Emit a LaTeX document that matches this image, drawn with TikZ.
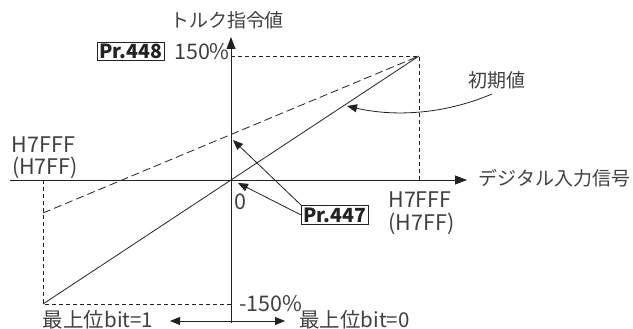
\documentclass[tikz,border=0pt]{standalone}
\usepackage{fontspec}
\setmainfont{Noto Sans CJK JP}
\usetikzlibrary{arrows.meta}
\definecolor{ink}{HTML}{222222}
\definecolor{txt}{HTML}{404040}
\begin{document}
\begin{tikzpicture}[x=1pt,y=-1pt,
  line width=0.8pt, draw=ink,
  lbl/.style={inner sep=0pt, text=txt, font=\fontsize{19}{19}\selectfont},
  blbl/.style={inner sep=0pt, text=txt, font=\fontsize{20.5}{20.5}\selectfont},
  lat/.style={inner sep=0pt, text=txt, font=\fontsize{21.5}{21.5}\selectfont},
  parbox/.style={draw=ink, line width=0.8pt, inner sep=2pt, text=ink, font=\fontsize{19.5}{19.5}\selectfont\bfseries},
  axisarrow/.style={-{Triangle[length=12pt,width=9pt]}},
  ptr/.style={-{Triangle[length=10pt,width=8pt]}},
  guide/.style={dashed, dash pattern=on 4pt off 3pt},
  dline/.style={dash pattern=on 8pt off 4pt}]
\useasboundingbox (0,0) rectangle (633,329);
% key points
\coordinate (O) at (231,180);
\coordinate (TR) at (419,56);
\coordinate (BL) at (43,304);
\coordinate (DL) at (43,213);
\coordinate (Ytop) at (231,37);
\coordinate (Ybot) at (231,323);
\coordinate (Xl) at (10,180);
\coordinate (Xr) at (467,180);
\coordinate (Y150) at (231,56);
\coordinate (Ym150) at (231,304);
\coordinate (Xpos) at (419,180);
\coordinate (Xneg) at (43,180);
% axes
\draw[axisarrow] (Ybot) -- (Ytop);
\draw[axisarrow] (Xl) -- (Xr);
% guides
\draw[guide] (Y150) -- (TR) -- (Xpos);
\draw[guide] (Xneg) -- (BL) -- (Ym150);
% characteristic lines
\draw (BL) -- (TR);
\draw[dline] (DL) -- (TR);
% labels
\node[lbl] (ylab) at (227,20) {トルク指令値};
\node[parbox] (p448) at (131,51.5) {Pr.448};
\node[lat] (v150) at (202,52) {150\%};
\node[lbl] (init) at (497,80) {初期値};
\node[lat] (hl1) at (43.5,145) {H7FFF};
\node[lat] (hl2) at (45,167.5) {(H7FF)};
\node[lbl, anchor=west] (xlab) at (478,178) {デジタル入力信号};
\node[lat] (zero) at (240,202) {0};
\node[lat] (hr1) at (420,200) {H7FFF};
\node[lat] (hr2) at (421.5,224) {(H7FF)};
\node[lat] (vm150) at (271,303.5) {-150\%};
\node[blbl] (b1) at (98,320) {最上位bit=1};
\node[blbl, anchor=west] (b0) at (299,320) {最上位bit=0};
\node[parbox] (p447) at (335,215) {Pr.447};
% pointers
\coordinate (tipInit) at (347,106);
\coordinate (startInit) at (492,94);
\draw[ptr] (startInit) .. controls (440,116) and (390,116) .. (tipInit);
\coordinate (tipA) at (233,140);
\coordinate (tipB) at (238,183);
\draw[ptr] (p447.north west) -- (tipA);
\draw[ptr] (p447.west) -- (tipB);
% bottom double arrow
\coordinate (dl) at (170,321);
\coordinate (dr) at (285,321);
\draw[{Triangle[length=10pt,width=8pt]}-{Triangle[length=10pt,width=8pt]}] (dl) -- (dr);
\end{tikzpicture}
\end{document}
